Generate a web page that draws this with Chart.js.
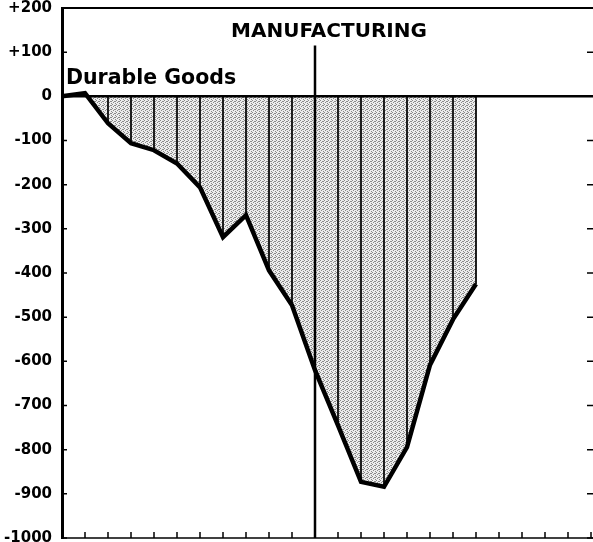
<!DOCTYPE html>
<html>
<head>
<meta charset="utf-8">
<script src="https://cdn.jsdelivr.net/npm/chart.js@4.4.1/dist/chart.umd.min.js"></script>
<style>
  html, body { margin: 0; padding: 0; background: #fff; }
</style>
</head>
<body>
<canvas id="js--chart" width="593" height="542"></canvas>
<script>
const periods = ['0', '1', '2', '3', '4', '5', '6', '7', '8', '9', '10', '11',
    '12', '13', '14', '15', '16', '17', '18', '19', '20', '21', '22', '23'];

const durableGoods = [0, 7, -61, -106, -122, -152, -206, -319, -269, -394, -473, -620,
    -745, -873, -884, -794, -608, -505, -425];

const yTickValues = [200, 100, 0, -100, -200, -300, -400, -500, -600, -700, -800, -900, -1000];
const yTickLabels = ['+200', '+100', '0', '-100', '-200', '-300', '-400', '-500', '-600',
    '-700', '-800', '-900', '-1000'];

const dividerAt = 11;

// stipple for the shaded area
const tile = document.createElement('canvas');
tile.width = 4;
tile.height = 4;
const tctx = tile.getContext('2d');
tctx.fillStyle = '#ededed';
tctx.fillRect(0, 0, 4, 4);
tctx.fillStyle = '#8a8a8a';
[[0, 0], [2, 1], [1, 2], [3, 3], [3, 1]].forEach(function (p) {
    tctx.fillRect(p[0], p[1], 1, 1);
});
const stipple = tctx.createPattern(tile, 'repeat');

const frame = {
    id: 'frame',
    afterDatasetsDraw(chart) {
        const ctx = chart.ctx;
        const a = chart.chartArea;
        const x = chart.scales.x;
        const y = chart.scales.y;
        ctx.save();
        ctx.strokeStyle = '#000';

        // zero line
        ctx.lineWidth = 2.5;
        ctx.beginPath();
        ctx.moveTo(a.left, y.getPixelForValue(0));
        ctx.lineTo(chart.width, y.getPixelForValue(0));
        ctx.stroke();

        // top and bottom lines
        ctx.lineWidth = 2;
        ctx.beginPath();
        ctx.moveTo(a.left, a.top);
        ctx.lineTo(chart.width, a.top);
        ctx.stroke();
        ctx.lineWidth = 1.5;
        ctx.beginPath();
        ctx.moveTo(a.left, a.bottom);
        ctx.lineTo(chart.width, a.bottom);
        ctx.stroke();

        // divider
        ctx.lineWidth = 2.5;
        ctx.beginPath();
        ctx.moveTo(x.getPixelForValue(dividerAt), y.getPixelForValue(115));
        ctx.lineTo(x.getPixelForValue(dividerAt), a.bottom);
        ctx.stroke();

        // inside ticks
        ctx.lineWidth = 1.5;
        ctx.beginPath();
        yTickValues.forEach(function (v) {
            const py = y.getPixelForValue(v);
            ctx.moveTo(a.left, py);
            ctx.lineTo(a.left + 5, py);
            ctx.moveTo(a.right - 4, py);
            ctx.lineTo(a.right + 2, py);
        });
        periods.forEach(function (p, i) {
            if (i === 0) return;
            const px = x.getPixelForValue(i);
            ctx.moveTo(px, a.bottom);
            ctx.lineTo(px, a.bottom - 6);
        });
        ctx.stroke();

        // texts
        ctx.fillStyle = '#000';
        ctx.textBaseline = 'alphabetic';
        ctx.font = 'bold 20px "DejaVu Sans"';
        ctx.textAlign = 'center';
        ctx.fillText('MANUFACTURING', 329, 37);
        ctx.textAlign = 'left';
        ctx.font = 'bold 20.5px "DejaVu Sans"';
        ctx.fillText('Durable Goods', 66, 84);
        ctx.restore();
    }
};

new Chart(document.getElementById('js--chart'), {
    data: {
        labels: periods,
        datasets: [
            {
                type: 'line',
                label: 'Durable Goods',
                data: durableGoods,
                borderColor: '#000',
                borderWidth: 4.5,
                borderJoinStyle: 'miter',
                pointRadius: 0,
                tension: 0,
                fill: { target: 'origin', above: 'rgba(0,0,0,0)', below: stipple },
                order: 0
            },
            {
                type: 'bar',
                label: 'hatch',
                data: durableGoods.map(function (v) { return v < 0 ? v : null; }),
                backgroundColor: '#111',
                barThickness: 1.2,
                order: 1
            }
        ]
    },
    options: {
        responsive: false,
        animation: false,
        devicePixelRatio: 1,
        layout: { padding: { top: 8, bottom: 4, right: 2, left: 0 } },
        plugins: {
            legend: { display: false },
            tooltip: { enabled: false },
            filler: { drawTime: 'beforeDatasetsDraw' }
        },
        scales: {
            x: {
                type: 'category',
                display: false,
                offset: false
            },
            y: {
                min: -1000,
                max: 200,
                afterBuildTicks: function (s) {
                    s.ticks = yTickValues.map(function (v) { return { value: v }; });
                },
                afterFit: function (s) {
                    s.width = 62;
                    s.paddingTop = 0;
                    s.paddingBottom = 0;
                },
                grid: { display: false, drawTicks: false },
                border: { display: true, color: '#000', width: 3 },
                ticks: {
                    autoSkip: false,
                    padding: 10,
                    color: '#000',
                    font: { family: 'DejaVu Sans', size: 15, weight: 'bold' },
                    callback: function (v) { return yTickLabels[yTickValues.indexOf(v)]; }
                }
            }
        }
    },
    plugins: [frame]
});
</script>
</body>
</html>
